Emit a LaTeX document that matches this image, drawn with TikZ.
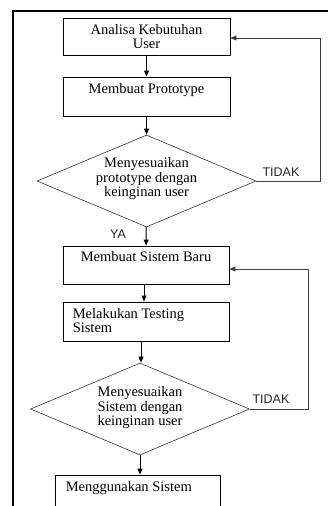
\documentclass[tikz,border=0pt]{standalone}
\usepackage{fontspec}
\setmainfont{Liberation Serif}
\newfontfamily\labelfont{Liberation Sans}
\usetikzlibrary{shapes.geometric,arrows.meta,positioning}

\tikzset{
  kotak/.style={draw, rectangle, line width=0.9pt, inner sep=0pt},
  belah/.style={draw=black!80, diamond, line width=0.6pt, inner sep=0pt,
    minimum width=219pt, minimum height=92pt},
  teks/.style={font=\fontsize{14.5}{14.5}\selectfont, align=center, inner sep=0pt},
  ket/.style={font=\labelfont\fontsize{12.5}{13}\selectfont, inner sep=0pt, text=black!85},
  panah/.style={-{Triangle[length=6pt,width=5pt]}, line width=1pt},
  balik/.style={-{Triangle[length=6pt,width=5pt]}, line width=0.7pt, draw=black!75},
}

\begin{document}
\begin{tikzpicture}[x=1pt,y=-1pt]
	\clip (0,0) rectangle (328,506);
	% bingkai
	\draw[line width=1.2pt] (13,506) -- (13,11) -- (328,11);
	
	% kotak dan belah ketupat
	\node[kotak, minimum width=167pt, minimum height=37pt] (b1) at (146.5,36.5) {};
	\node[kotak, minimum width=167pt, minimum height=39pt] (b2) at (146.5,96.5) {};
	\node[belah] (d1) at (146.5,181) {};
	\node[kotak, minimum width=166pt, minimum height=38pt] (b3) at (146,265) {};
	\node[kotak, minimum width=166pt, minimum height=39pt] (b4) at (146,321.5) {};
	\node[belah] (d2) at (140,409) {};
	\node[kotak, minimum width=165pt, minimum height=45pt] (b5) at (137.5,497.5) {};
	
	% teks
	\node[teks] (t1) at (b1) {Analisa Kebutuhan\\User};
	\node[teks, below=6.5pt of b2.north] (t2) {Membuat Prototype};
	\node[teks] (t3) at ([yshift=2pt]d1) {Menyesuaikan\\prototype dengan\\keinginan user};
	\node[teks, below=6pt of b3.north] (t4) {Membuat Sistem Baru};
	\node[teks, align=left, below right=6.5pt and 10pt of b4.north west] (t5) {Melakukan Testing\\Sistem};
	\node[teks] (t6) at ([yshift=1pt]d2) {Menyesuaikan\\Sistem dengan\\keinginan user};
	\node[teks, below right=7pt and 11pt of b5.north west] (t7) {Menggunakan Sistem};
	
	% keterangan
	\node[ket] (tidak1) at (281,172) {TIDAK};
	\node[ket] (ya) at (118,234) {YA};
	\node[ket] (tidak2) at (271,399) {TIDAK};
	
	% panah
	\draw[panah] (b1) -- (b2);
	\draw[panah] (b2) -- (d1);
	\draw[panah] (d1) -- (b3);
	\draw[panah] ([xshift=-2pt]b3.south) -- ([xshift=-2pt]b4.north);
	\draw[panah] ([xshift=-5pt]b4.south) -- ([xshift=-5pt]b4.south |- d2.north);
	\draw[panah] (d2.south) -- (d2.south |- b5.north);
	\draw[balik] (d1.east) -- ++(64,0) |- ([yshift=-1.5pt]b1.east);
	\draw[balik] (d2.east) -- ++(59,0) |- ([yshift=-4pt]b3.east);
\end{tikzpicture}
\end{document}
